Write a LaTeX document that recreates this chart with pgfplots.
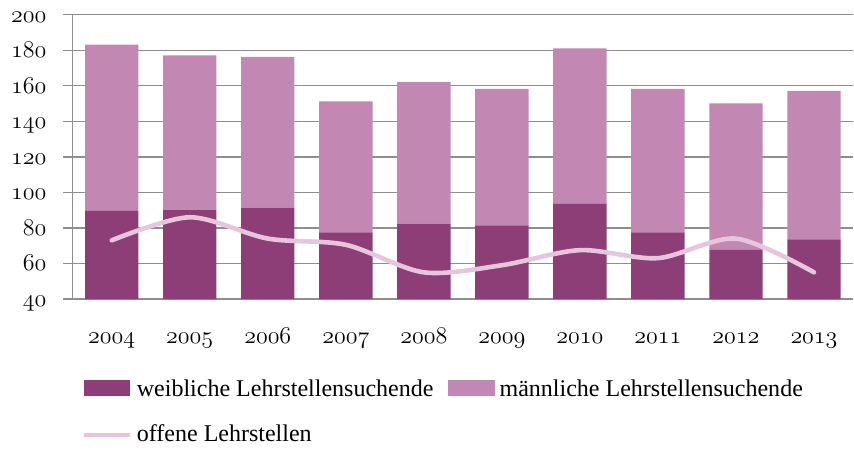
\documentclass[border=0pt]{standalone}
\usepackage{fontspec}
\setmainfont{Liberation Serif}
\usepackage{pgfplots}
\pgfplotsset{compat=1.18}
\definecolor{darkp}{HTML}{8E3E76}
\definecolor{lightp}{HTML}{C287B3}
\definecolor{linec}{HTML}{E8C5DE}
\definecolor{gridc}{HTML}{8E8E8E}
\newcommand\osn[1]{{\usefont{OML}{lmm}{m}{it}#1}}
\begin{document}
\begin{tikzpicture}
\useasboundingbox (-36.35pt,-75.5pt) rectangle (390.65pt,149.5pt);
\begin{axis}[
  scale only axis, width=390.15pt, height=142.15pt,
  xmin=-0.5, xmax=9.5, ymin=40, ymax=200,
  ybar stacked, bar width=26.7pt,
  axis x line*=bottom, axis y line*=left,
  axis line style={gridc, line width=0.75pt, -},
  ymajorgrids, grid style={gridc, line width=0.65pt},
  ytick={40,60,...,200},
  yticklabels={\osn{40},\osn{60},\osn{80},\osn{100},\osn{120},\osn{140},\osn{160},\osn{180},\osn{200}},
  xtick={0,...,9},
  xticklabels={\osn{2004},\osn{2005},\osn{2006},\osn{2007},\osn{2008},\osn{2009},\osn{2010},\osn{2011},\osn{2012},\osn{2013}},
  tick align=outside, major tick length=4.7pt,
  ytick style={gridc, line width=0.65pt},
  xtick style={draw=none},
  tick label style={font=\fontsize{12}{14}\selectfont},
  xticklabel style={anchor=base, yshift=-17.3pt, inner sep=0pt},
  yticklabel style={anchor=base east, inner sep=0pt, xshift=-8.3pt, yshift=-3.7pt},
  legend columns=2,
  legend style={at={(0.01155,-0.2782)}, anchor=north west, draw=none, fill=none,
    inner sep=0pt, outer sep=0pt, row sep=10.8pt,
    font=\fontsize{12}{14}\selectfont,
    cells={anchor=base west},
    nodes={inner sep=0pt, text height=9pt, text depth=3pt},
    /tikz/every odd column/.style={column sep=2.3pt},
    /tikz/every even column/.style={column sep=7.5pt}},
]
\addplot[fill=darkp, draw=none,
  legend image code/.code={\fill[darkp] (0pt,0pt) rectangle (23.3pt,8pt);}]
  coordinates {(0,89.6) (1,90) (2,91.4) (3,77.5) (4,82.4) (5,81.5) (6,93.5) (7,77.5) (8,67.6) (9,73.6)};
\addplot[fill=lightp, draw=none,
  legend image code/.code={\fill[lightp] (0pt,0pt) rectangle (23.3pt,8pt);}]
  coordinates {(0,93.5) (1,87.1) (2,84.8) (3,73.7) (4,79.7) (5,76.7) (6,87.5) (7,80.7) (8,82.5) (9,83.6)};
\addlegendimage{legend image code/.code={\draw[linec, line width=2pt] (0pt,3.3pt) -- (23.3pt,3.3pt);}}
\legend{weibliche Lehrstellensuchende, männliche Lehrstellensuchende, offene Lehrstellen}
\end{axis}
\begin{axis}[
  scale only axis, width=390.15pt, height=142.15pt,
  xmin=-0.5, xmax=9.5, ymin=40, ymax=200,
  hide axis,
]
\addplot[linec, line width=2.3pt, smooth, line cap=round]
  coordinates {(0,73) (1,86) (2,74) (3,70.5) (4,55) (5,59) (6,67.5) (7,63) (8,74) (9,55)};
\end{axis}
\end{tikzpicture}
\end{document}
